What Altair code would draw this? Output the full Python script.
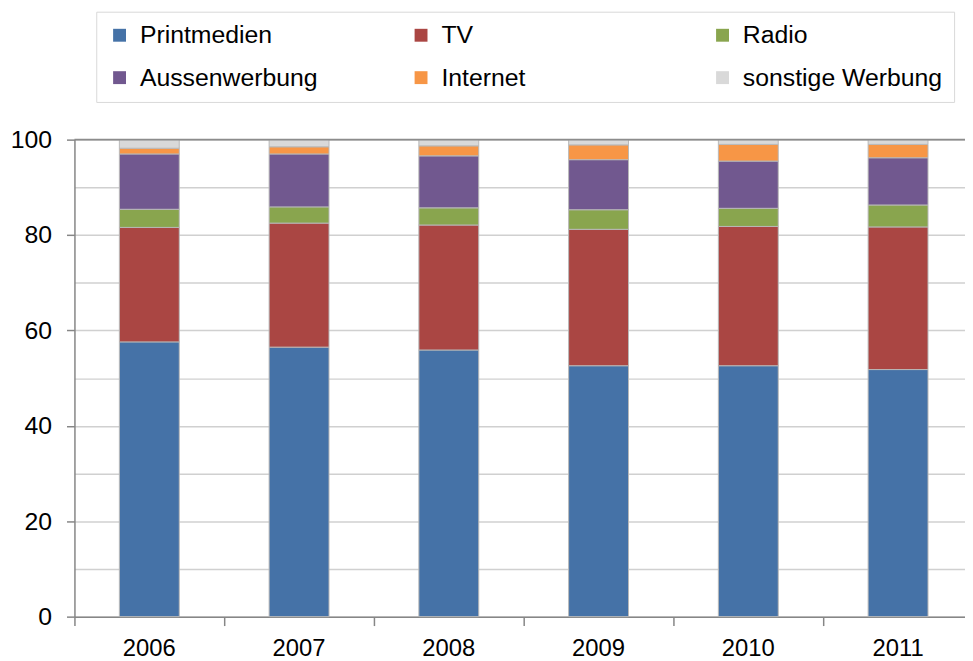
import altair as alt
import pandas as pd

years = ["2006", "2007", "2008", "2009", "2010", "2011"]
categories = ["Printmedien", "TV", "Radio", "Aussenwerbung", "Internet", "sonstige Werbung"]
colors = ["#4572A7", "#AA4643", "#89A54E", "#71588F", "#F79646", "#D9D9D9"]

printmedien = [57.6, 56.5, 55.9, 52.6, 52.6, 51.8]
tv = [24.0, 26.0, 26.2, 28.6, 29.2, 29.9]
radio = [3.8, 3.4, 3.6, 4.1, 3.8, 4.6]
aussenwerbung = [11.6, 11.1, 10.9, 10.5, 9.9, 9.9]
internet = [1.2, 1.5, 2.1, 3.1, 3.5, 2.8]
sonstige = [1.8, 1.5, 1.3, 1.1, 1.0, 1.0]

series = [printmedien, tv, radio, aussenwerbung, internet, sonstige]
rows = []
for ci, (cat, vals) in enumerate(zip(categories, series)):
    for y, v in zip(years, vals):
        rows.append({"Jahr": y, "Kategorie": cat, "Wert": v, "idx": ci})
df = pd.DataFrame(rows)

FONT = "Liberation Sans"
FS = 25

bars = alt.Chart(df).mark_bar(
    width=alt.RelativeBandSize(0.4), stroke="#b8b8b8", strokeWidth=1
).encode(
    x=alt.X("Jahr:N", sort=years,
            scale=alt.Scale(paddingInner=0, paddingOuter=0, range=[0, 906]),
            axis=alt.Axis(title=None, labelAngle=0, bandPosition=0,
                          tickSize=9, labelPadding=11,
                          domainColor="#868686", tickColor="#868686",
                          domainWidth=1.5, tickWidth=1.5, grid=False,
                          labelFontSize=24, labelFont=FONT, labelColor="#000000")),
    y=alt.Y("Wert:Q", stack="zero",
            scale=alt.Scale(domain=[0, 100], nice=False),
            axis=alt.Axis(title=None, values=list(range(0, 101, 10)),
                          labelExpr="datum.value % 20 === 0 ? datum.label : ''",
                          tickOpacity={"condition": {"test": "datum.value % 20 === 0", "value": 1}, "value": 0},
                          tickSize=8, labelPadding=15,
                          domainColor="#868686", tickColor="#868686",
                          domainWidth=1.5, tickWidth=1.5,
                          gridColor="#d0d0d0", gridWidth=1.5,
                          labelFontSize=FS, labelFont=FONT, labelColor="#000000")),
    color=alt.Color("Kategorie:N",
                    scale=alt.Scale(domain=categories, range=colors),
                    legend=alt.Legend(title=None, orient="none", legendX=22, legendY=-129,
                                      direction="horizontal",
                                      columns=3, gridAlign="all", columnPadding=69,
                                      rowPadding=17, padding=11, labelLimit=400,
                                      symbolType="square", symbolSize=169,
                                      symbolStrokeWidth=0, labelOffset=8,
                                      labelFontSize=FS, labelFont=FONT, labelColor="#000000",
                                      strokeColor="#d9d9d9", fillColor="#ffffff")),
    order=alt.Order("idx:Q", sort="ascending"),
)

top_rule = alt.Chart().mark_rule(color="#8c8c8c", strokeWidth=2).encode(y=alt.datum(100))

chart = alt.layer(bars, top_rule).properties(
    width=898, height=481,
    autosize=alt.AutoSizeParams(type="none"),
    padding={"left": 67, "top": 130, "right": 0, "bottom": 42},
).configure_view(stroke=None)

chart.save("out.html", embed_options={"renderer": "svg", "actions": False})
